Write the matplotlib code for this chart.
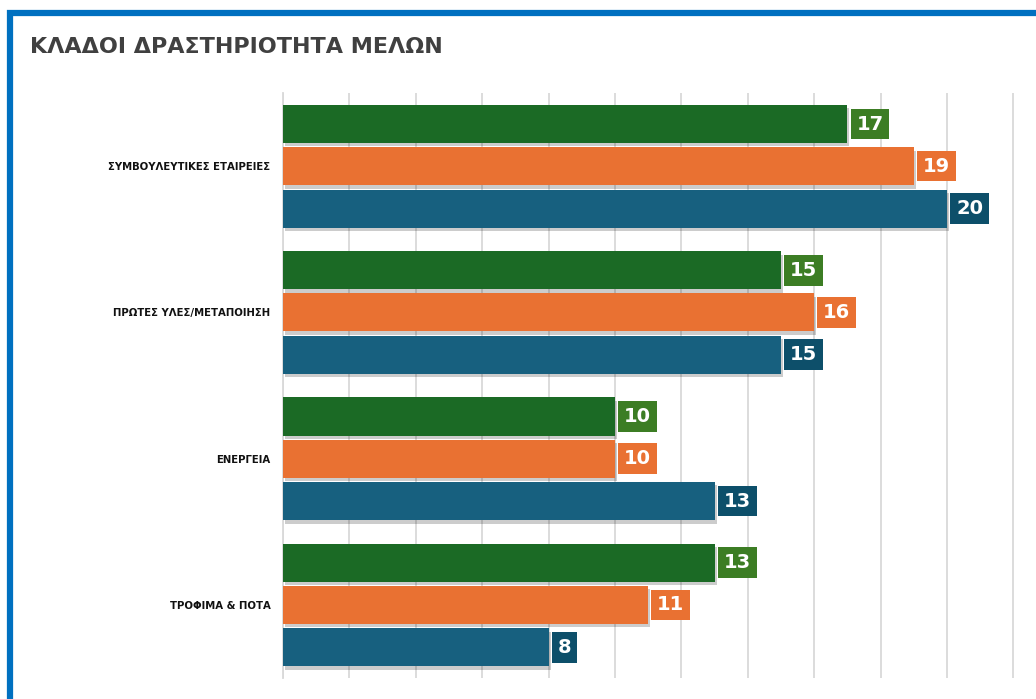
import numpy as np
import matplotlib.pyplot as plt
from matplotlib.patches import Rectangle
import matplotlib.patheffects as pe

# data
categories = ['ΣΥΜΒΟΥΛΕΥΤΙΚΕΣ ΕΤΑΙΡΕΙΕΣ', 'ΠΡΩΤΕΣ ΥΛΕΣ/ΜΕΤΑΠΟΙΗΣΗ', 'ΕΝΕΡΓΕΙΑ', 'ΤΡΟΦΙΜΑ & ΠΟΤΑ']
green_vals = [17, 15, 10, 13]
orange_vals = [19, 16, 10, 11]
blue_vals = [20, 15, 13, 8]

bar_colors = ['#1b6a25', '#e97132', '#17607f']
box_colors = ['#3c7d24', '#e97132', '#0d4f6a']

plt.rcParams['font.family'] = ['DejaVu Sans']

fig = plt.figure(figsize=(10.36, 6.99), dpi=100)
ax = fig.add_axes([283 / 1036, 1 - 678 / 699, 1 - 283 / 1036, (678 - 93) / 699])

y = np.arange(len(categories))
offsets = [-0.288, 0.0, 0.29]
height = 0.26
shadow = [pe.SimplePatchShadow(offset=(1.5, -2.5), shadow_rgbFace='#000000', alpha=0.2), pe.Normal()]

for vals, off, bc, lc in zip([green_vals, orange_vals, blue_vals], offsets, bar_colors, box_colors):
    bars = ax.barh(y + off, vals, height=height, color=bc, zorder=3)
    for b in bars:
        b.set_path_effects(shadow)
    for yi, v in zip(y + off, vals):
        ax.annotate(str(v), xy=(v, yi), xytext=(6.5, 0), textcoords='offset points',
                    ha='left', va='center', color='white', fontsize=14, fontweight='bold',
                    bbox=dict(boxstyle='square,pad=0.3', fc=lc, ec='none'), zorder=4)

ax.set_xlim(0, (1036 - 283) / 33.2)
ax.set_ylim(3.5, -0.5)
ax.set_xticks(np.arange(0, 24, 2))
ax.xaxis.grid(True, color='#d9d9d9', linewidth=1.3, zorder=0)
ax.tick_params(axis='x', length=0, labelbottom=False)
ax.tick_params(axis='y', length=0, pad=9)
ax.set_yticks(y)
ax.set_yticklabels(categories, fontsize=7.3, fontweight='bold', color='#111111')
for s in ['top', 'right', 'bottom']:
    ax.spines[s].set_visible(False)
ax.spines['left'].set_color('#d9d9d9')
ax.spines['left'].set_linewidth(1.3)

fig.text(30 / 1036, 1 - 47 / 699, 'ΚΛΑΔΟΙ ΔΡΑΣΤΗΡΙΟΤΗΤΑ ΜΕΛΩΝ', fontsize=16, fontweight='bold',
         color='#404040', ha='left', va='center')

# blue frame
fig.patches.append(Rectangle((10 / 1036, -0.2), 1.2, 1 - 13 / 699 + 0.2, transform=fig.transFigure,
                             fill=False, ec='#0070c0', lw=4.5, zorder=10))

fig.savefig('out.png', dpi=100)
